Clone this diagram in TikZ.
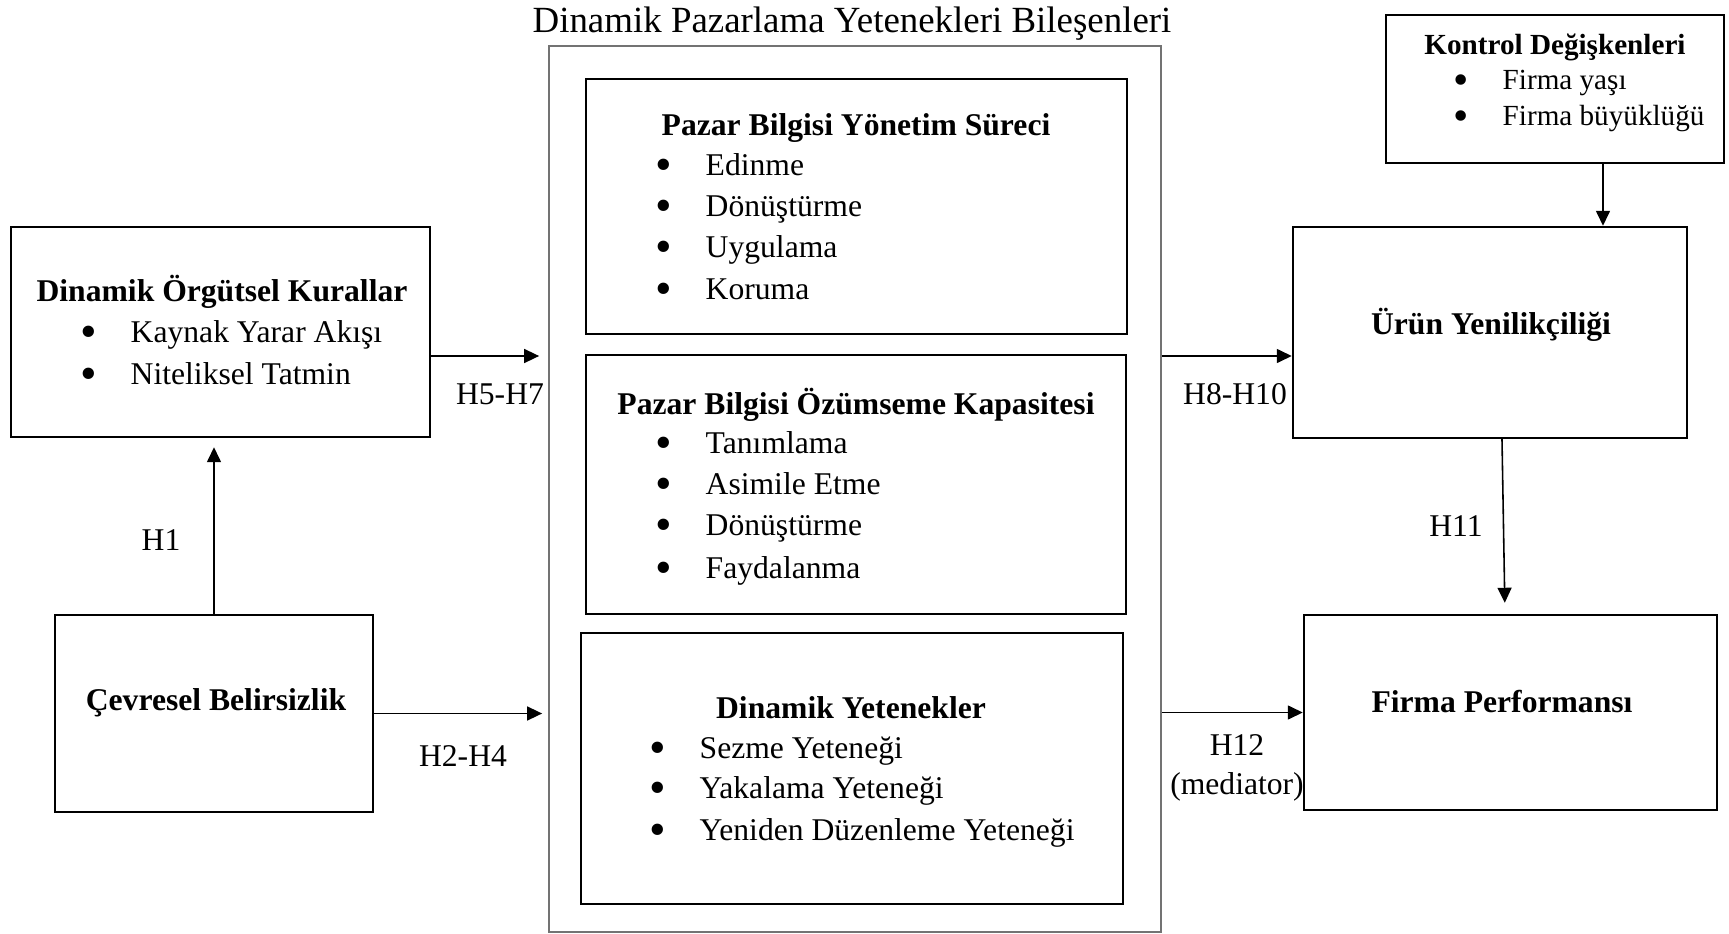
\documentclass[tikz,border=0pt]{standalone}
\usepackage{graphicx}
\usepackage{fontspec}
\setmainfont{Liberation Serif}
\usetikzlibrary{arrows.meta}

\tikzset{
  box/.style={draw, line width=0.7pt, inner sep=0pt},
  frame/.style={draw=black!55, line width=0.5pt, inner sep=0pt},
  txt/.style={inner sep=0pt, text height=0.76em, text depth=0.14em, font=\fontsize{9}{11}\selectfont},
  hd/.style={txt, font=\fontsize{9}{11}\selectfont\bfseries},
  itm/.style={txt, anchor=west},
  small/.style={font=\fontsize{8.3}{10}\selectfont},
  smallhd/.style={txt, font=\fontsize{8.3}{10}\selectfont\bfseries},
  arr/.style={-{Triangle[length=1.5mm, width=1.4mm]}, line width=0.45pt},
}
\newcommand{\bul}[2][5mm]{\makebox[#1][l]{\raisebox{-0.16em}{\scalebox{1.5}{\textbullet}}}#2}

\begin{document}
\begin{tikzpicture}[x=0.1mm, y=-0.1mm]
  \useasboundingbox (0,0) rectangle (1729,934);
  % boxes
  \node[box, minimum width=41.9mm, minimum height=21mm] (kural) at (220.5,332) {};
  \node[box, minimum width=31.8mm, minimum height=19.7mm] (cevre) at (214,713.5) {};
  \node[frame, minimum width=61.2mm, minimum height=88.6mm] (dmy) at (855,489) {};
  \node[box, minimum width=54.1mm, minimum height=25.5mm] (pbys) at (856.5,206.5) {};
  \node[box, minimum width=54mm, minimum height=25.9mm] (pboz) at (856,484.5) {};
  \node[box, minimum width=54.2mm, minimum height=27.1mm] (dyet) at (852,768.5) {};
  \node[box, minimum width=33.8mm, minimum height=14.8mm] (kontrol) at (1555,89) {};
  \node[box, minimum width=39.4mm, minimum height=21.1mm] (urun) at (1490,332.5) {};
  \node[box, minimum width=41.3mm, minimum height=19.5mm] (firma) at (1510.5,712.5) {};

  % texts
  \node[txt, font=\fontsize{10.5}{12}\selectfont] (baslik) at (852,22) {Dinamik Pazarlama Yetenekleri Bileşenleri};

  \node[hd] (kuralT) at (222,291) {Dinamik Örgütsel Kurallar};
  \node[itm] (kural1) at (80,332) {\bul{Kaynak Yarar Akışı}};
  \node[itm] (kural2) at (80,374) {\bul{Niteliksel Tatmin}};

  \node[hd] (cevreT) at (216,700) {Çevresel Belirsizlik};

  \node[hd] (pbysT) at (856,125) {Pazar Bilgisi Yönetim Süreci};
  \node[itm] (pbys1) at (655,165) {\bul{Edinme}};
  \node[itm] (pbys2) at (655,206) {\bul{Dönüştürme}};
  \node[itm] (pbys3) at (655,247) {\bul{Uygulama}};
  \node[itm] (pbys4) at (655,289) {\bul{Koruma}};

  \node[hd] (pbozT) at (856,404) {Pazar Bilgisi Özümseme Kapasitesi};
  \node[itm] (pboz1) at (655,443) {\bul{Tanımlama}};
  \node[itm] (pboz2) at (655,484) {\bul{Asimile Etme}};
  \node[itm] (pboz3) at (655,525) {\bul{Dönüştürme}};
  \node[itm] (pboz4) at (655,568) {\bul{Faydalanma}};

  \node[hd] (dyetT) at (851,708) {Dinamik Yetenekler};
  \node[itm] (dyet1) at (649,748) {\bul{Sezme Yeteneği}};
  \node[itm] (dyet2) at (649,788) {\bul{Yakalama Yeteneği}};
  \node[itm] (dyet3) at (649,830) {\bul{Yeniden Düzenleme Yeteneği}};

  \node[smallhd] (kontrolT) at (1555,44) {Kontrol Değişkenleri};
  \node[itm, small] (kontrol1) at (1453,79) {\bul[4.9mm]{Firma yaşı}};
  \node[itm, small] (kontrol2) at (1453,115) {\bul[4.9mm]{Firma büyüklüğü}};

  \node[hd] (urunT) at (1491,324) {Ürün Yenilikçiliği};
  \node[hd] (firmaT) at (1502,702) {Firma Performansı};

  % hypothesis labels
  \node[txt] (h1) at (161,540) {H1};
  \node[txt] (h57) at (500,394) {H5-H7};
  \node[txt] (h24) at (463,756) {H2-H4};
  \node[txt] (h810) at (1235,394) {H8-H10};
  \node[txt] (h12) at (1237,745) {H12};
  \node[txt] (h12m) at (1237,784) {(mediator)};
  \node[txt] (h11) at (1456,526) {H11};

  % arrows
  \coordinate (k5) at ([yshift=-2.4mm]kural.east);
  \coordinate (u8) at ([yshift=-2.35mm]urun.west);
  \coordinate (kd) at ([xshift=4.8mm]kontrol.south);
  \draw[arr, shorten >=0.9mm] (cevre.north) -- (cevre.north |- kural.south);
  \draw[arr, shorten >=0.9mm] (k5) -- (k5 -| dmy.west);
  \draw[arr, shorten >=0.6mm] (cevre.east) -- (cevre.east -| dmy.west);
  \draw[arr] (u8 -| dmy.east) -- (u8);
  \draw[arr] (firma.west -| dmy.east) -- (firma.west);
  \draw[arr] (kd) -- (kd |- urun.north);
  \draw[arr, shorten >=1.1mm] ([xshift=1.2mm]urun.south) -- ([xshift=-0.55mm]firma.north);
\end{tikzpicture}
\end{document}
